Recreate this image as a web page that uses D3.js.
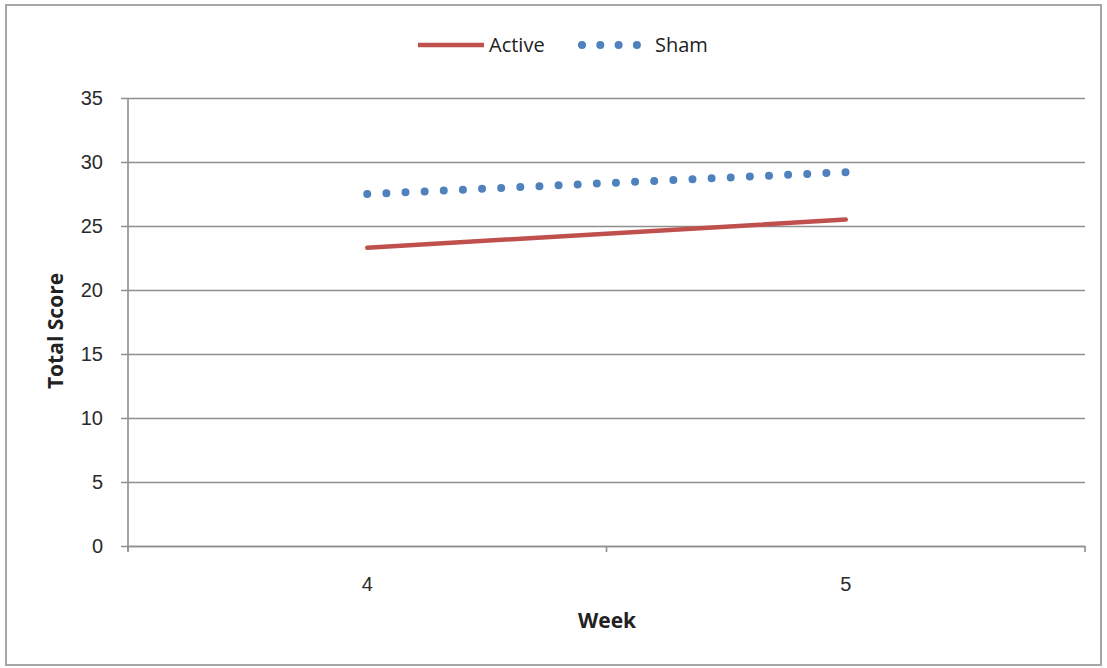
<!DOCTYPE html>
<html>
<head>
<meta charset="utf-8">
<script src="https://cdn.jsdelivr.net/npm/d3@7/dist/d3.min.js"></script>
<style>
  html, body { margin: 0; padding: 0; background: #fff; }
  svg { display: block; font-family: "Open Sans", "Noto Sans", sans-serif; }
</style>
</head>
<body>
<svg id="chart" width="1107" height="668"></svg>
<script>
// Weekly total scores for the two study arms
const weeks = ["4", "5"];
const activeScores = [23.3, 25.5];
const shamScores = [27.5, 29.2];
const yTicks = [0, 5, 10, 15, 20, 25, 30, 35];

const svg = d3.select("#chart");
const W = 1107, H = 668;
const margin = { left: 128, right: 22, top: 98, bottom: 122 };
const plotW = W - margin.left - margin.right;
const plotH = H - margin.top - margin.bottom;
const gridColor = "#8f8f8f";
const textColor = "#2a2a2a";

// Outer frame
svg.append("rect")
  .attr("x", 6).attr("y", 5).attr("width", 1095).attr("height", 660)
  .attr("fill", "#fff").attr("stroke", "#a6a6a6").attr("stroke-width", 2);

const g = svg.append("g").attr("transform", `translate(${margin.left},${margin.top})`);

const x = d3.scaleBand().domain(weeks).range([0, plotW]);
const y = d3.scaleLinear().domain([0, 35]).range([plotH, 0]);

// Horizontal gridlines with y axis ticks
const yAxis = d3.axisLeft(y).tickValues(yTicks).tickSize(-plotW).tickPadding(25);
const yg = g.append("g").call(yAxis);
yg.select(".domain").remove();
yg.selectAll(".tick line")
  .attr("x1", -7)
  .attr("stroke", gridColor).attr("stroke-width", 1.6);
yg.selectAll(".tick text")
  .attr("font-size", 20).attr("fill", textColor);

// Vertical axis line
g.append("line")
  .attr("x1", 0).attr("x2", 0).attr("y1", 0).attr("y2", plotH + 5)
  .attr("stroke", gridColor).attr("stroke-width", 1.6);

// Category axis
const xAxis = d3.axisBottom(x).tickSize(0).tickPadding(31);
const xg = g.append("g").attr("transform", `translate(0,${plotH})`).call(xAxis);
xg.select(".domain").attr("stroke", gridColor).attr("stroke-width", 1.6);
xg.selectAll(".tick text").attr("font-size", 20).attr("fill", textColor);
// Tick marks between categories
const bounds = [0, x.step(), plotW];
g.selectAll(".cat-tick").data(bounds).enter().append("line")
  .attr("class", "cat-tick")
  .attr("x1", d => d).attr("x2", d => d)
  .attr("y1", plotH).attr("y2", plotH + 6)
  .attr("stroke", gridColor).attr("stroke-width", 1.6);

const cx = d => x(d) + x.bandwidth() / 2;
const seriesLine = d3.line().x((d, i) => cx(weeks[i])).y(d => y(d));

// Active series: solid red line
g.append("path").datum(activeScores)
  .attr("d", seriesLine)
  .attr("fill", "none").attr("stroke", "#c0504d").attr("stroke-width", 4.5)
  .attr("stroke-linecap", "round");

// Sham series: round-dotted blue line, dots spread evenly end to end
const shamPath = g.append("path").datum(shamScores)
  .attr("d", seriesLine)
  .attr("fill", "none").attr("stroke", "#4f81bd").attr("stroke-width", 8)
  .attr("stroke-linecap", "round");
const shamLen = shamPath.node().getTotalLength();
shamPath.attr("stroke-dasharray", `0 ${(shamLen / 25 - 0.01).toFixed(3)}`);

// Axis titles
svg.append("text")
  .attr("x", 607).attr("y", 628)
  .attr("text-anchor", "middle").attr("font-size", 21).attr("font-weight", "bold")
  .attr("fill", "#222").text("Week");
svg.append("text")
  .attr("transform", "translate(63,331) rotate(-90)")
  .attr("text-anchor", "middle").attr("font-size", 21).attr("font-weight", "bold")
  .attr("fill", "#222").text("Total Score");

// Legend
const leg = svg.append("g");
leg.append("line").attr("x1", 418).attr("x2", 484).attr("y1", 45).attr("y2", 45)
  .attr("stroke", "#c0504d").attr("stroke-width", 4.5);
leg.append("text").attr("x", 489).attr("y", 52).attr("font-size", 20).attr("fill", "#222").text("Active");
leg.append("line").attr("x1", 582).attr("x2", 637.5).attr("y1", 45).attr("y2", 45)
  .attr("stroke", "#4f81bd").attr("stroke-width", 8)
  .attr("stroke-linecap", "round").attr("stroke-dasharray", "0 18.3");
leg.append("text").attr("x", 655).attr("y", 52).attr("font-size", 20).attr("fill", "#222").text("Sham");
</script>
</body>
</html>
